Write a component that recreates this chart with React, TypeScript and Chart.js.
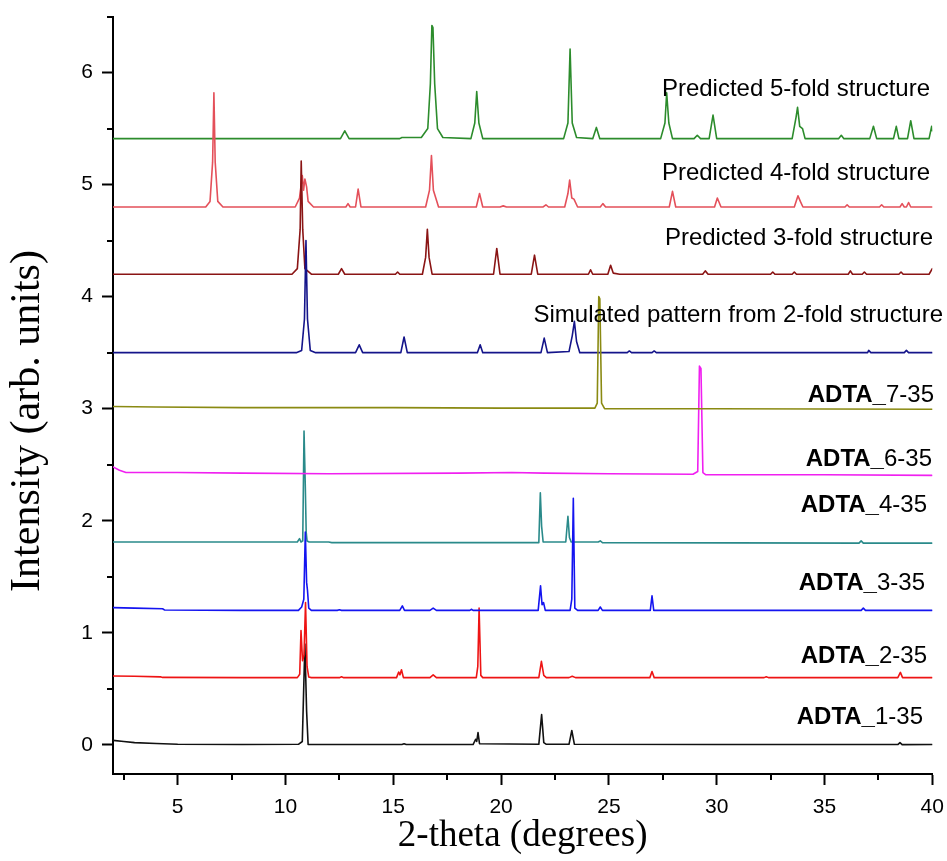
import React, { useEffect, useRef } from 'react';
import { Chart, registerables } from 'chart.js';

Chart.register(...registerables);

// ---------- axes ----------
const X_MIN = 2;
const X_MAX = 40;
const Y_MIN = -0.26;
const Y_MAX = 6.5;
const X_TICKS = [2.5, 5, 7.5, 10, 12.5, 15, 17.5, 20, 22.5, 25, 27.5, 30, 32.5, 35, 37.5, 40];
const Y_TICKS = [0, 0.5, 1, 1.5, 2, 2.5, 3, 3.5, 4, 4.5, 5, 5.5, 6, 6.5];
const X_TITLE = '2-theta (degrees)';
const Y_TITLE = 'Intensity (arb. units)';

// ---------- series (2-theta, intensity) ----------
const ADTA_1_35: [number, number][] = [
  [2, 0.04], [2.5, 0.03], [3, 0.02], [4, 0.012], [5, 0.005], [8, 0.003], [10.6, 0.005], [10.78, 0.03],
  [10.9, 0.9], [10.98, 0.3], [11.05, 0.003], [15.4, 0.003], [15.5, 0.01], [15.6, 0.003], [18.7, 0.003],
  [18.82, 0.05], [18.87, 0.03], [18.93, 0.11], [19.0, 0.01], [21.75, 0.005], [21.88, 0.27], [21.98, 0.02],
  [22.1, 0.005], [23.15, 0.005], [23.28, 0.128], [23.4, 0.005], [30, 0.003], [38.4, 0.003], [38.5, 0.02],
  [38.6, 0.002], [40, 0.003],
];
const ADTA_2_35: [number, number][] = [
  [2, 0.615], [3, 0.612], [4.2, 0.607], [4.3, 0.602], [8, 0.6], [10.55, 0.6], [10.66, 0.63], [10.72, 1.02],
  [10.79, 0.75], [10.86, 0.8], [10.93, 1.27], [11.0, 0.7], [11.08, 0.605], [11.2, 0.6], [12.5, 0.6],
  [12.6, 0.607], [12.7, 0.6], [15.15, 0.6], [15.25, 0.65], [15.31, 0.625], [15.38, 0.67], [15.47, 0.6],
  [16.7, 0.6], [16.85, 0.625], [17.0, 0.6], [18.85, 0.6], [18.92, 0.7], [18.98, 1.22], [19.06, 0.62],
  [19.15, 0.6], [21.75, 0.6], [21.87, 0.745], [21.98, 0.62], [22.1, 0.6], [23.15, 0.6], [23.3, 0.612],
  [23.45, 0.6], [26.9, 0.6], [27.0, 0.655], [27.1, 0.6], [32.2, 0.6], [32.3, 0.608], [32.4, 0.6],
  [38.4, 0.6], [38.52, 0.647], [38.62, 0.6], [40, 0.6],
];
const ADTA_3_35: [number, number][] = [
  [2, 1.225], [3, 1.22], [4.3, 1.215], [4.4, 1.203], [8, 1.2], [10.6, 1.2], [10.75, 1.23], [10.85, 1.3],
  [10.92, 1.9], [10.98, 1.45], [11.02, 1.38], [11.08, 1.22], [11.2, 1.2], [12.4, 1.2], [12.5, 1.205],
  [12.6, 1.2], [15.3, 1.2], [15.42, 1.24], [15.52, 1.2], [16.7, 1.2], [16.85, 1.22], [17.0, 1.2],
  [18.55, 1.2], [18.62, 1.21], [18.7, 1.2], [21.72, 1.2], [21.83, 1.42], [21.9, 1.25], [21.97, 1.27],
  [22.05, 1.2], [23.2, 1.2], [23.28, 1.3], [23.35, 2.2], [23.42, 1.22], [23.55, 1.2], [24.5, 1.2],
  [24.6, 1.23], [24.7, 1.2], [26.92, 1.2], [27.0, 1.33], [27.08, 1.2], [36.7, 1.2], [36.8, 1.22],
  [36.9, 1.2], [40, 1.2],
];
const ADTA_4_35: [number, number][] = [
  [2, 1.81], [10.55, 1.81], [10.65, 1.84], [10.72, 1.81], [10.8, 1.82], [10.86, 2.8], [10.92, 2.3],
  [10.96, 1.9], [11.0, 1.82], [11.1, 1.81], [12.0, 1.81], [12.15, 1.805], [21.75, 1.805], [21.82, 2.25],
  [21.88, 1.95], [21.95, 1.81], [23.0, 1.81], [23.1, 2.04], [23.17, 1.85], [23.25, 1.81], [24.5, 1.81],
  [24.6, 1.82], [24.7, 1.805], [36.6, 1.8], [36.7, 1.82], [36.8, 1.8], [40, 1.8],
];
const ADTA_6_35: [number, number][] = [
  [2, 2.48], [2.3, 2.45], [2.6, 2.43], [5, 2.43], [8, 2.425], [12, 2.42], [18, 2.425], [20.5, 2.43],
  [22, 2.425], [25, 2.42], [28.9, 2.415], [29.12, 2.44], [29.2, 3.38], [29.27, 3.36], [29.36, 2.43],
  [29.5, 2.41], [35, 2.41], [40, 2.405],
];
const ADTA_7_35: [number, number][] = [
  [2, 3.02], [4, 3.015], [8, 3.01], [15, 3.01], [20, 3.005], [24.35, 3.005], [24.46, 3.05], [24.53, 4.0],
  [24.58, 3.98], [24.66, 3.05], [24.8, 3.0], [30, 3.0], [40, 2.995],
];
const SIM_2FOLD: [number, number][] = [
  [2, 3.5], [10.5, 3.5], [10.75, 3.52], [10.88, 3.8], [10.95, 4.5], [11.02, 3.8], [11.15, 3.52], [11.4, 3.5],
  [13.25, 3.5], [13.42, 3.57], [13.58, 3.5], [15.35, 3.5], [15.5, 3.64], [15.65, 3.5], [18.9, 3.5],
  [19.03, 3.57], [19.15, 3.5], [21.85, 3.5], [22.0, 3.63], [22.15, 3.5], [23.15, 3.51], [23.3, 3.65],
  [23.4, 3.78], [23.5, 3.6], [23.65, 3.5], [25.85, 3.5], [25.95, 3.515], [26.05, 3.5], [27.0, 3.5],
  [27.1, 3.515], [27.2, 3.5], [37.0, 3.5], [37.05, 3.52], [37.15, 3.5], [38.7, 3.5], [38.8, 3.52],
  [38.9, 3.5], [40, 3.5],
];
const PRED_3FOLD: [number, number][] = [
  [2, 4.2], [10.3, 4.2], [10.55, 4.25], [10.68, 4.6], [10.73, 5.21], [10.8, 4.6], [10.9, 4.25], [11.2, 4.2],
  [12.45, 4.2], [12.6, 4.25], [12.75, 4.2], [15.1, 4.2], [15.2, 4.22], [15.3, 4.2], [16.35, 4.2],
  [16.5, 4.35], [16.58, 4.6], [16.66, 4.35], [16.8, 4.2], [19.65, 4.2], [19.8, 4.43], [19.95, 4.2],
  [21.4, 4.2], [21.55, 4.37], [21.7, 4.2], [24.05, 4.2], [24.15, 4.24], [24.25, 4.2], [24.95, 4.2],
  [25.08, 4.28], [25.2, 4.21], [25.5, 4.2], [29.35, 4.2], [29.47, 4.23], [29.6, 4.2], [32.5, 4.2],
  [32.6, 4.22], [32.7, 4.2], [33.5, 4.2], [33.6, 4.22], [33.7, 4.2], [36.1, 4.2], [36.2, 4.23],
  [36.3, 4.2], [36.75, 4.2], [36.85, 4.22], [36.95, 4.2], [38.45, 4.2], [38.55, 4.22], [38.65, 4.2],
  [39.85, 4.2], [40, 4.25],
];
const PRED_4FOLD: [number, number][] = [
  [2, 4.8], [6.3, 4.8], [6.5, 4.85], [6.62, 5.2], [6.68, 5.82], [6.74, 5.2], [6.86, 4.85], [7.1, 4.8],
  [10.45, 4.8], [10.65, 4.88], [10.78, 5.08], [10.84, 4.95], [10.9, 5.05], [10.98, 4.98], [11.05, 4.85],
  [11.3, 4.8], [12.8, 4.8], [12.9, 4.83], [13.0, 4.8], [13.25, 4.8], [13.37, 4.96], [13.5, 4.8],
  [16.5, 4.8], [16.68, 4.95], [16.77, 5.26], [16.86, 4.95], [17.1, 4.8], [18.85, 4.8], [19.0, 4.92],
  [19.15, 4.8], [19.95, 4.8], [20.1, 4.81], [20.25, 4.8], [21.95, 4.8], [22.08, 4.82], [22.2, 4.8],
  [22.95, 4.8], [23.1, 4.92], [23.18, 5.04], [23.28, 4.88], [23.38, 4.87], [23.55, 4.8], [24.6, 4.8],
  [24.72, 4.83], [24.85, 4.8], [27.8, 4.8], [27.95, 4.94], [28.1, 4.8], [29.9, 4.8], [30.03, 4.88],
  [30.2, 4.8], [33.6, 4.8], [33.77, 4.9], [33.88, 4.85], [34.0, 4.8], [35.95, 4.8], [36.05, 4.82],
  [36.15, 4.8], [37.55, 4.8], [37.65, 4.82], [37.75, 4.8], [38.5, 4.8], [38.6, 4.83], [38.7, 4.8],
  [38.8, 4.8], [38.9, 4.84], [39.0, 4.8], [40, 4.8],
];
const PRED_5FOLD: [number, number][] = [
  [2, 5.41], [12.55, 5.41], [12.75, 5.48], [12.95, 5.41], [15.3, 5.41], [15.4, 5.42], [16.3, 5.42],
  [16.6, 5.5], [16.72, 5.9], [16.79, 6.42], [16.84, 6.4], [16.92, 5.9], [17.05, 5.5], [17.3, 5.42],
  [18.6, 5.41], [18.78, 5.55], [18.87, 5.83], [18.97, 5.55], [19.15, 5.41], [22.9, 5.41], [23.1, 5.55],
  [23.2, 6.21], [23.3, 5.55], [23.5, 5.42], [24.25, 5.41], [24.42, 5.51], [24.58, 5.41], [27.4, 5.41],
  [27.6, 5.55], [27.68, 5.82], [27.78, 5.55], [27.95, 5.41], [28.95, 5.41], [29.1, 5.44], [29.25, 5.41],
  [29.65, 5.41], [29.83, 5.62], [30.0, 5.41], [33.5, 5.41], [33.68, 5.6], [33.75, 5.69], [33.85, 5.52],
  [33.98, 5.5], [34.1, 5.41], [35.65, 5.41], [35.78, 5.44], [35.9, 5.41], [37.1, 5.41], [37.27, 5.52],
  [37.42, 5.41], [38.2, 5.41], [38.33, 5.52], [38.45, 5.41], [38.85, 5.41], [39.0, 5.57], [39.15, 5.41],
  [39.85, 5.41], [39.97, 5.52], [40, 5.48],
];

// ---------- curve labels ----------
const LABELS = [
  { bold: '', text: 'Predicted 5-fold structure', y: 5.85, right: 930 },
  { bold: '', text: 'Predicted 4-fold structure', y: 5.1, right: 930 },
  { bold: '', text: 'Predicted 3-fold structure', y: 4.52, right: 933 },
  { bold: '', text: 'Simulated pattern from 2-fold structure', y: 3.83, right: 943 },
  { bold: 'ADTA_', text: '7-35', y: 3.12, right: 934 },
  { bold: 'ADTA_', text: '6-35', y: 2.55, right: 932 },
  { bold: 'ADTA_', text: '4-35', y: 2.14, right: 927 },
  { bold: 'ADTA_', text: '3-35', y: 1.44, right: 925 },
  { bold: 'ADTA_', text: '2-35', y: 0.79, right: 927 },
  { bold: 'ADTA_', text: '1-35', y: 0.248, right: 923 },
];

const SANS = '"Liberation Sans", Arial, sans-serif';
const SERIF = '"Liberation Serif", "Times New Roman", serif';

const decorPlugin = {
  id: 'decor',
  afterDatasetsDraw(chart: any) {
    const { ctx, scales } = chart;
    const y = scales.y;
    ctx.save();
    ctx.fillStyle = '#000';
    ctx.textBaseline = 'middle';
    for (const l of LABELS) {
      const py = y.getPixelForValue(l.y);
      ctx.textAlign = 'right';
      ctx.font = `24px ${SANS}`;
      ctx.fillText(l.text, l.right, py);
      if (l.bold) {
        const w = ctx.measureText(l.text).width;
        ctx.font = `bold 24px ${SANS}`;
        ctx.fillText(l.bold, l.right - w, py);
      }
    }
    ctx.restore();
  },
  afterDraw(chart: any) {
    const { ctx, scales } = chart;
    const x = scales.x;
    const y = scales.y;
    ctx.save();
    ctx.strokeStyle = '#000';
    ctx.lineWidth = 2;
    for (const v of X_TICKS) {
      if (v % 5 === 0) continue;
      const px = Math.round(x.getPixelForValue(v));
      ctx.beginPath();
      ctx.moveTo(px, y.bottom);
      ctx.lineTo(px, y.bottom + 6);
      ctx.stroke();
    }
    for (const v of Y_TICKS) {
      if (Number.isInteger(v)) continue;
      const py = Math.round(y.getPixelForValue(v));
      ctx.beginPath();
      ctx.moveTo(x.left, py);
      ctx.lineTo(x.left - 6, py);
      ctx.stroke();
    }
    // y-axis title
    ctx.translate(28, 421);
    ctx.rotate(-Math.PI / 2);
    ctx.fillStyle = '#000';
    ctx.font = `42px ${SERIF}`;
    ctx.textAlign = 'center';
    ctx.textBaseline = 'middle';
    ctx.fillText(Y_TITLE, 0, 0);
    ctx.restore();
  },
};

const toXY = (arr: [number, number][]) => arr.map(([a, b]) => ({ x: a, y: b }));

export default function App() {
  const ref = useRef<HTMLCanvasElement | null>(null);

  useEffect(() => {
    if (!ref.current) return;
    const mk = (data: [number, number][], color: string, label: string) => ({
      label,
      data: toXY(data),
      borderColor: color,
      backgroundColor: color,
      borderWidth: 1.6,
      pointRadius: 0,
      tension: 0,
      fill: false,
      borderJoinStyle: 'round' as const,
    });
    const chart = new Chart(ref.current, {
      type: 'line',
      data: {
        datasets: [
          mk(ADTA_7_35, '#8a8a12', 'ADTA_7-35'),
          mk(ADTA_6_35, '#f020f0', 'ADTA_6-35'),
          mk(ADTA_3_35, '#1414f0', 'ADTA_3-35'),
          mk(ADTA_4_35, '#2a8a8a', 'ADTA_4-35'),
          mk(ADTA_2_35, '#ee1414', 'ADTA_2-35'),
          mk(ADTA_1_35, '#111111', 'ADTA_1-35'),
          mk(SIM_2FOLD, '#14148a', 'Simulated 2-fold'),
          mk(PRED_3FOLD, '#8a1414', 'Predicted 3-fold'),
          mk(PRED_4FOLD, '#e4505a', 'Predicted 4-fold'),
          mk(PRED_5FOLD, '#2c8c2c', 'Predicted 5-fold'),
        ],
      },
      options: {
        animation: false,
        responsive: false,
        devicePixelRatio: 1,
        layout: { padding: { top: 16.5, right: 14.7, left: 0, bottom: 0 } },
        plugins: { legend: { display: false }, tooltip: { enabled: false } },
        elements: { line: { borderCapStyle: 'round' } },
        scales: {
          x: {
            type: 'linear',
            min: X_MIN,
            max: X_MAX,
            afterFit: (s: any) => {
              s.height = 87;
              s.paddingLeft = 0;
              s.paddingRight = 0;
            },
            afterBuildTicks: (s: any) => { s.ticks = X_TICKS.map((v) => ({ value: v })); },
            ticks: {
              autoSkip: false,
              maxRotation: 0,
              padding: 10,
              color: '#000',
              font: { family: SANS, size: 21 },
              callback: (v: any) => (Number(v) % 5 === 0 ? String(v) : ''),
            },
            grid: {
              drawOnChartArea: false,
              drawTicks: true,
              tickLength: 11,
              tickWidth: 2,
              tickColor: (c: any) => (c.tick && c.tick.value % 5 === 0 ? '#000' : 'rgba(0,0,0,0)'),
            },
            border: { display: true, color: '#000', width: 2 },
            title: {
              display: true,
              text: X_TITLE,
              color: '#000',
              font: { family: SERIF, size: 37 },
              padding: { top: 0, bottom: 3 },
            },
          },
          y: {
            type: 'linear',
            min: Y_MIN,
            max: Y_MAX,
            afterFit: (s: any) => {
              s.width = 113;
              s.paddingTop = 0;
              s.paddingBottom = 0;
            },
            afterBuildTicks: (s: any) => { s.ticks = Y_TICKS.map((v) => ({ value: v })); },
            ticks: {
              autoSkip: false,
              padding: 9,
              color: '#000',
              font: { family: SANS, size: 21 },
              callback: (v: any) => (Number.isInteger(Number(v)) ? String(v) : ''),
            },
            grid: {
              drawOnChartArea: false,
              drawTicks: true,
              tickLength: 11,
              tickWidth: 2,
              tickColor: (c: any) => (c.tick && Number.isInteger(c.tick.value) ? '#000' : 'rgba(0,0,0,0)'),
            },
            border: { display: true, color: '#000', width: 2 },
            title: { display: false },
          },
        },
      },
      plugins: [decorPlugin],
    });
    return () => chart.destroy();
  }, []);

  return (
    <div style={{ position: 'fixed', left: 0, top: 0, width: 947, height: 861, background: '#fff' }}>
      <canvas ref={ref} width={947} height={861} style={{ display: 'block', width: 947, height: 861 }} />
    </div>
  );
}
